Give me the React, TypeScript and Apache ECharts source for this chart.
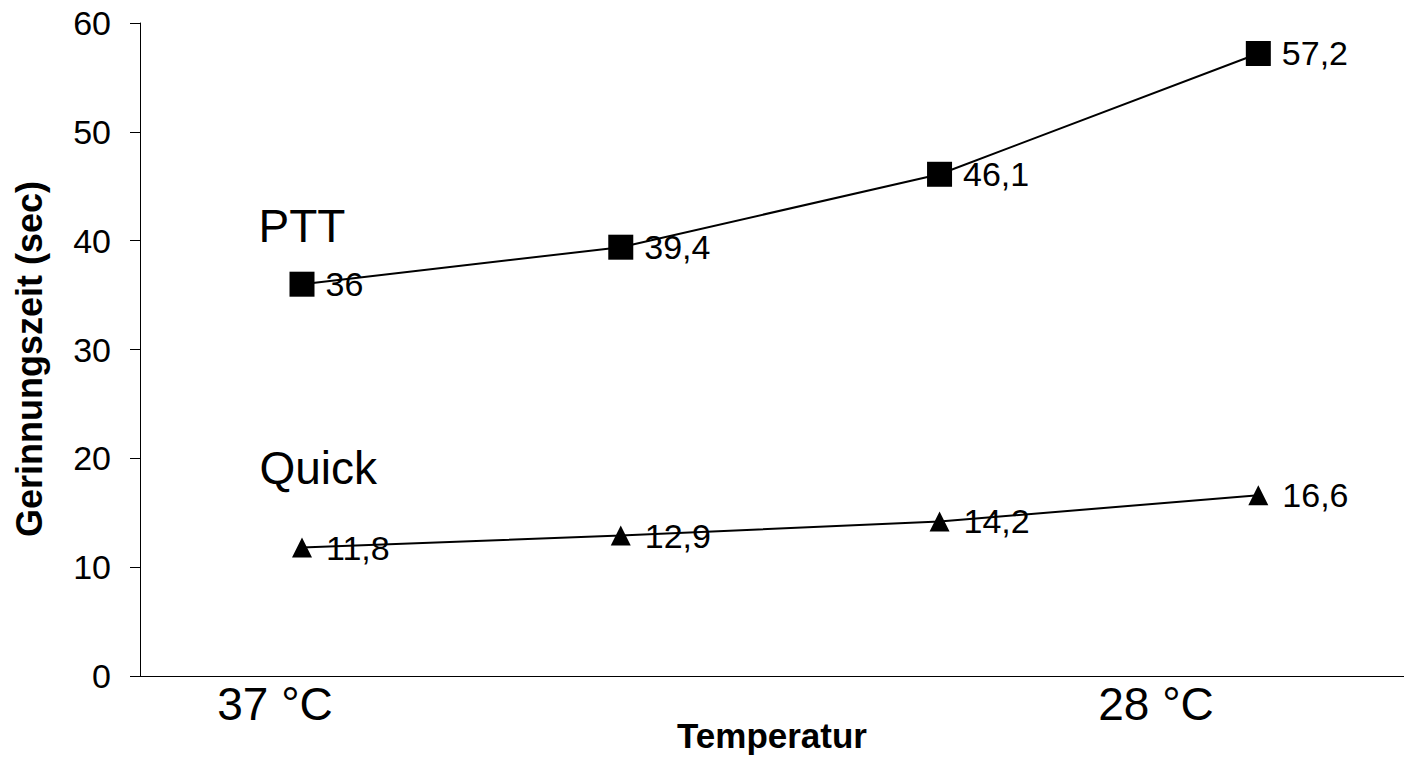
import React, { useEffect, useRef } from "react";
import * as echarts from "echarts";

const positions = [1, 2, 3, 4];
const pttValues = [36, 39.4, 46.1, 57.2];
const quickValues = [11.8, 12.9, 14.2, 16.6];
const seriesNames = ["PTT", "Quick"];
const xTickLabels = ["37 °C", "28 °C"];
const xAxisTitle = "Temperatur";
const yAxisTitle = "Gerinnungszeit (sec)";

const FONT = '"Liberation Sans", Arial, sans-serif';
const fmt = (v: number) => String(v).replace(".", ",");

export default function App() {
  const ref = useRef<HTMLDivElement>(null);
  useEffect(() => {
    if (!ref.current) return;
    const chart = echarts.init(ref.current, undefined, { renderer: "svg" });
    const bigText = (text: string, x: number, y: number, align: string) => ({
      type: "text",
      x,
      y,
      silent: true,
      style: {
        text,
        fill: "#000",
        fontSize: 46,
        fontFamily: FONT,
        align,
        textAlign: align,
        verticalAlign: "middle",
        textVerticalAlign: "middle",
      },
    });
    chart.setOption({
      animation: false,
      backgroundColor: "#fff",
      textStyle: { fontFamily: FONT, color: "#000" },
      grid: { left: 140, right: 0, top: 23, bottom: 84, containLabel: false },
      xAxis: {
        type: "value",
        min: 0.4918,
        max: 4.457,
        axisLine: { show: true, lineStyle: { color: "#000", width: 1 } },
        axisTick: { show: false },
        axisLabel: { show: false },
        splitLine: { show: false },
        name: xAxisTitle,
        nameLocation: "middle",
        nameGap: 42,
        nameTextStyle: { fontSize: 35, fontWeight: "bold", color: "#000", fontFamily: FONT },
      },
      yAxis: {
        type: "value",
        min: 0,
        max: 60,
        interval: 10,
        axisLine: { show: true, lineStyle: { color: "#000", width: 1 } },
        axisTick: { show: true, length: 10, inside: false, lineStyle: { color: "#000", width: 1 } },
        axisLabel: { fontSize: 34, color: "#000", margin: 29, fontFamily: FONT },
        splitLine: { show: false },
      },
      graphic: [
        bigText(seriesNames[0], 258.5, 226, "left"),
        bigText(seriesNames[1], 259.5, 468, "left"),
        bigText(xTickLabels[0], 275, 704, "center"),
        bigText(xTickLabels[1], 1156, 704, "center"),
        {
          type: "text",
          x: 29,
          y: 359,
          rotation: Math.PI / 2,
          silent: true,
          style: {
            text: yAxisTitle,
            fill: "#000",
            fontSize: 36,
            fontWeight: "bold",
            fontFamily: FONT,
            align: "center",
            textAlign: "center",
            verticalAlign: "middle",
            textVerticalAlign: "middle",
          },
        },
      ],
      series: [
        {
          name: seriesNames[0],
          type: "line",
          data: positions.map((x, i) => [x, pttValues[i]]),
          symbol: "rect",
          symbolSize: 25,
          lineStyle: { color: "#000", width: 2 },
          itemStyle: { color: "#000" },
          label: {
            show: true,
            position: "right",
            distance: 11,
            fontSize: 34,
            color: "#000",
            fontFamily: FONT,
            formatter: (p: any) => fmt(p.value[1]),
          },
        },
        {
          name: seriesNames[1],
          type: "line",
          data: positions.map((x, i) => [x, quickValues[i]]),
          symbol: "triangle",
          symbolSize: 20,
          lineStyle: { color: "#000", width: 2 },
          itemStyle: { color: "#000" },
          label: {
            show: true,
            position: "right",
            distance: 14,
            fontSize: 34,
            color: "#000",
            fontFamily: FONT,
            formatter: (p: any) => fmt(p.value[1]),
          },
        },
      ],
    });
    return () => chart.dispose();
  }, []);
  return (
    <div
      ref={ref}
      style={{ position: "fixed", left: 0, top: 0, width: 1404, height: 760, background: "#fff" }}
    />
  );
}
